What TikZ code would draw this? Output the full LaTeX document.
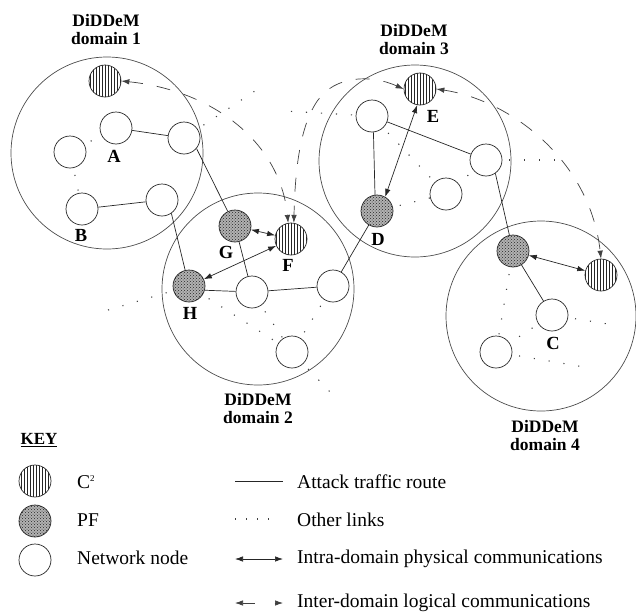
\documentclass[tikz,border=0pt]{standalone}
\usepackage{fontspec}
\setmainfont{Liberation Serif}
\usetikzlibrary{patterns,arrows.meta}
\begin{document}
\begin{tikzpicture}[x=1pt,y=-1pt,
  netnode/.style={circle,draw=black!85,line width=0.7pt,minimum size=32pt,inner sep=0pt,fill=white},
  ctwo/.style={circle,draw=black!85,line width=0.7pt,minimum size=32pt,inner sep=0pt,preaction={fill=white},pattern=vertical lines,pattern color=black!85},
  pfnode/.style={circle,draw=black!85,line width=0.7pt,minimum size=32pt,inner sep=0pt,preaction={fill=gray!60},pattern=crosshatch dots,pattern color=black!85},
  domaincirc/.style={circle,draw=black!70,line width=0.7pt,minimum size=192pt,inner sep=0pt},
  attack/.style={draw=black!85,line width=0.7pt},
  otherlink/.style={draw=black!75,line width=1.1pt,dash pattern=on 1.1pt off 13.9pt,dash phase=8pt},
  intra/.style={draw=black!85,line width=0.7pt,{Latex[length=8pt,width=5.5pt]}-{Latex[length=8pt,width=5.5pt]}},
  inter/.style={draw=black!75,line width=0.7pt,dash pattern=on 14pt off 14pt,{Latex[length=8pt,width=5.5pt]}-{Latex[length=8pt,width=5.5pt]}},
  lbl/.style={font=\fontsize{18.5}{18}\selectfont\bfseries,inner sep=0pt},
  titletext/.style={font=\fontsize{17.5}{18}\selectfont\bfseries,align=center,inner sep=0pt},
  keytext/.style={font=\fontsize{19.5}{20}\selectfont,anchor=west,inner sep=0pt},
]
\useasboundingbox (0,0) rectangle (636,613);

% domains
\node[domaincirc] (dom1) at (107,153) {};
\node[domaincirc] (dom2) at (258,289) {};
\node[domaincirc] (dom3) at (415,161) {};
\node[domaincirc,minimum size=190pt] (dom4) at (541,316) {};

\node[titletext] (t1) at (106,30) {DiDDeM\\domain 1};
\node[titletext] (t2) at (258,409) {DiDDeM\\domain 2};
\node[titletext] (t3) at (414,40) {DiDDeM\\domain 3};
\node[titletext] (t4) at (545,436) {DiDDeM\\domain 4};

% domain 1 nodes
\node[ctwo] (c2a) at (105,81) {};
\node[netnode] (nA) at (116,128) {};
\node[netnode] (n1r) at (184,138) {};
\node[netnode] (n1l) at (70,152) {};
\node[netnode] (nB) at (82,209) {};
\node[netnode] (n1br) at (162,200) {};
% domain 2 nodes
\node[pfnode] (pfG) at (235,226) {};
\node[ctwo] (c2F) at (291,239) {};
\node[pfnode] (pfH) at (189,286) {};
\node[netnode] (n2c) at (252,292) {};
\node[netnode] (n2r) at (333,286) {};
\node[netnode] (n2b) at (292,352) {};
% domain 3 nodes
\node[ctwo] (c2E) at (420,89) {};
\node[netnode] (n3ul) at (372,116) {};
\node[netnode] (n3r) at (486,160) {};
\node[netnode] (n3lo) at (446,194) {};
\node[pfnode] (pfD) at (377,211) {};
% domain 4 nodes
\node[pfnode] (pf4) at (513,251) {};
\node[ctwo] (c24) at (601,275) {};
\node[netnode] (nC) at (552,315) {};
\node[netnode] (n4ll) at (496,352) {};

% labels
\node[lbl] (lA) at (114,156) {A};
\node[lbl] (lB) at (81,235) {B};
\node[lbl] (lG) at (226,252) {G};
\node[lbl] (lF) at (288,265) {F};
\node[lbl] (lH) at (190,313) {H};
\node[lbl] (lD) at (378,239) {D};
\node[lbl] (lE) at (433,116) {E};
\node[lbl] (lC) at (553,343) {C};

% free ends of other links
\coordinate (p1) at (258,89);
\coordinate (p2) at (284,111);
\coordinate (p3) at (566,160);
\coordinate (p4) at (98,313);
\coordinate (p5) at (331,393);
\coordinate (p6) at (614,325);
\coordinate (p7) at (584,367);

% attack traffic routes
\draw[attack] (nA) -- (n1r);
\draw[attack] (nB) -- (n1br);
\draw[attack] (n1r.-40) -- (pfG);
\draw[attack] (n1br.-55) -- (pfH);
\draw[attack] (pfG) -- (n2c);
\draw[attack] (pfH.-15) -- (n2c);
\draw[attack] (n2c) -- (n2r);
\draw[attack] (n2r) -- (pfD);
\draw[attack] (n3ul.-85) -- (pfD.97);
\draw[attack] (n3ul) -- (n3r);
\draw[attack] (n3r.-55) -- (pf4);
\draw[attack] (pf4) -- (nC);

% other links
\draw[otherlink] (n1l) -- (nA);
\draw[otherlink] (n1l) -- (nB);
\draw[otherlink] (n1r) -- (p1);
\draw[otherlink] (p2) -- (n3ul);
\draw[otherlink] (n3ul) -- (n3lo);
\draw[otherlink] (pfD) -- (n3lo);
\draw[otherlink] (n3r) -- (n3lo);
\draw[otherlink] (n3r) -- (p3);
\draw[otherlink] (pfH) -- (p4);
\draw[otherlink] (pfH) -- (n2b);
\draw[otherlink] (n2c) -- (n2b);
\draw[otherlink] (n2r) -- (n2b);
\draw[otherlink] (n2b) -- (p5);
\draw[otherlink] (pf4) -- (n4ll);
\draw[otherlink] (nC) -- (n4ll);
\draw[otherlink] (nC) -- (p6);
\draw[otherlink] (n4ll) -- (p7);

% intra-domain physical communications
\draw[intra] (pfG) -- (c2F);
\draw[intra] (pfH) -- (c2F);
\draw[intra] (c2E.-100) -- (pfD.60);
\draw[intra] (pf4) -- (c24);

% inter-domain logical communications
\draw[inter] (c2a.east) .. controls (210,90) and (280,140) .. (c2F.100);
\draw[inter] (c2E.west) .. controls (370,74) and (335,76) .. (318,100) .. controls (300,125) and (295,170) .. (c2F.80);
\draw[inter] (c2E.east) .. controls (510,100) and (590,160) .. (c24.north);

% key
\node[font=\fontsize{17}{18}\selectfont\bfseries,inner sep=0pt] (key) at (39,440) {\underline{KEY}};
\node[ctwo] (kc2) at (35,481) {};
\node[pfnode] (kpf) at (35,521) {};
\node[netnode] (knn) at (35,560) {};
\node[keytext] (tc2) at (77,482) {C\textsuperscript{\fontsize{9}{9}\selectfont 2}};
\node[keytext] (tpf) at (77,520) {PF};
\node[keytext] (tnn) at (77,558) {Network node};

\coordinate (k1a) at (235,481); \coordinate (k1b) at (283,481);
\coordinate (k2a) at (235,519); \coordinate (k2b) at (269,519);
\coordinate (k3a) at (235,559); \coordinate (k3b) at (283,559);
\coordinate (k4a) at (235,603); \coordinate (k4b) at (283,603);
\draw[attack] (k1a) -- (k1b);
\draw[otherlink,dash phase=0pt,dash pattern=on 1.1pt off 10pt] (k2a) -- (k2b);
\draw[intra] (k3a) -- (k3b);
\draw[inter,dash pattern=on 12pt off 20pt] (k4a) -- (k4b);
\node[keytext] (ta) at (297,482) {Attack traffic route};
\node[keytext] (to) at (297,520) {Other links};
\node[keytext] (ti) at (297,559) {Intra-domain physical communications};
\node[keytext] (te) at (297,603) {Inter-domain logical communications};
\end{tikzpicture}
\end{document}
